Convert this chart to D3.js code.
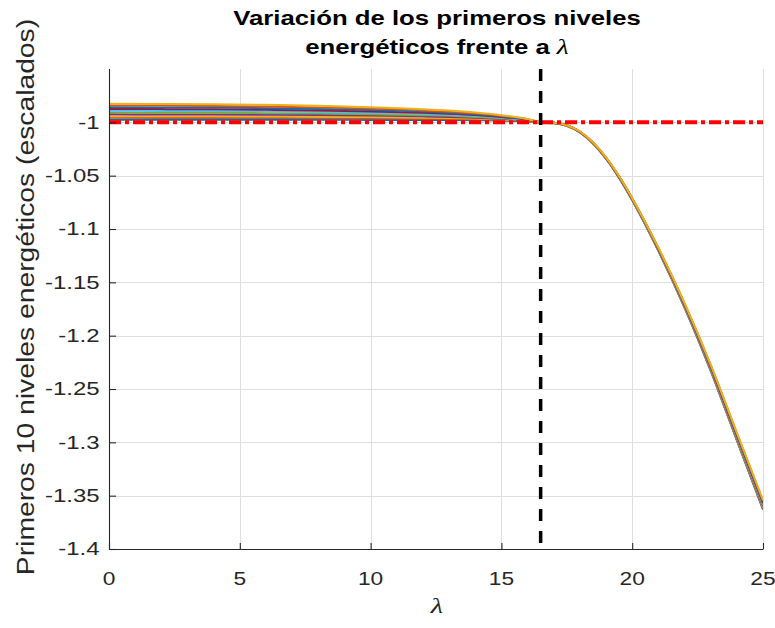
<!DOCTYPE html>
<html>
<head>
<meta charset="utf-8">
<script src="https://cdn.jsdelivr.net/npm/d3@7"></script>
<style>
  html, body { margin: 0; padding: 0; background: #fff; }
  svg { display: block; }
</style>
</head>
<body>
<svg id="chart" width="775" height="628"></svg>
<script>
// λ sample points shared by all ten levels
const lambdas = [0, 2, 4, 6, 8, 10, 12, 13, 14, 15, 16, 16.5, 17, 17.5, 18, 18.5, 19, 19.5, 20, 21, 22, 23, 24, 25];

// scaled energy of the first ten levels at each λ
const level1  = [-0.9975, -0.9975, -0.9975, -0.9976, -0.9976, -0.9977, -0.9978, -0.9979, -0.9981, -0.9984, -0.9992, -1.0003, -1.0008, -1.0033, -1.0094, -1.0198, -1.0341, -1.0521, -1.0730, -1.1205, -1.1737, -1.2329, -1.2982, -1.3630];
const level2  = [-0.9958, -0.9959, -0.9959, -0.9960, -0.9961, -0.9964, -0.9967, -0.9969, -0.9973, -0.9978, -0.9989, -1.0002, -1.0007, -1.0032, -1.0093, -1.0197, -1.0340, -1.0519, -1.0727, -1.1202, -1.1732, -1.2323, -1.2974, -1.3620];
const level3  = [-0.9942, -0.9942, -0.9943, -0.9945, -0.9947, -0.9951, -0.9956, -0.9959, -0.9965, -0.9973, -0.9987, -1.0002, -1.0006, -1.0032, -1.0092, -1.0196, -1.0338, -1.0517, -1.0725, -1.1198, -1.1727, -1.2316, -1.2966, -1.3610];
const level4  = [-0.9925, -0.9926, -0.9927, -0.9929, -0.9932, -0.9937, -0.9944, -0.9949, -0.9957, -0.9967, -0.9984, -1.0001, -1.0006, -1.0031, -1.0091, -1.0195, -1.0337, -1.0516, -1.0723, -1.1195, -1.1722, -1.2310, -1.2957, -1.3600];
const level5  = [-0.9908, -0.9909, -0.9911, -0.9914, -0.9918, -0.9924, -0.9933, -0.9939, -0.9949, -0.9961, -0.9981, -1.0000, -1.0005, -1.0030, -1.0090, -1.0194, -1.0336, -1.0514, -1.0721, -1.1192, -1.1717, -1.2303, -1.2949, -1.3590];
const level6  = [-0.9892, -0.9893, -0.9894, -0.9898, -0.9903, -0.9911, -0.9922, -0.9930, -0.9940, -0.9956, -0.9979, -1.0000, -1.0005, -1.0030, -1.0090, -1.0192, -1.0334, -1.0512, -1.0719, -1.1188, -1.1713, -1.2297, -1.2941, -1.3580];
const level7  = [-0.9875, -0.9876, -0.9878, -0.9883, -0.9889, -0.9898, -0.9911, -0.9920, -0.9932, -0.9950, -0.9976, -0.9999, -1.0004, -1.0029, -1.0089, -1.0191, -1.0333, -1.0511, -1.0717, -1.1185, -1.1708, -1.2290, -1.2933, -1.3570];
const level8  = [-0.9858, -0.9860, -0.9862, -0.9867, -0.9874, -0.9884, -0.9899, -0.9910, -0.9924, -0.9944, -0.9973, -0.9998, -1.0004, -1.0028, -1.0088, -1.0190, -1.0332, -1.0509, -1.0715, -1.1182, -1.1703, -1.2284, -1.2925, -1.3560];
const level9  = [-0.9842, -0.9843, -0.9846, -0.9852, -0.9860, -0.9871, -0.9888, -0.9900, -0.9916, -0.9939, -0.9971, -0.9998, -1.0003, -1.0028, -1.0087, -1.0189, -1.0330, -1.0507, -1.0713, -1.1178, -1.1698, -1.2277, -1.2916, -1.3550];
const level10 = [-0.9825, -0.9827, -0.9830, -0.9836, -0.9845, -0.9858, -0.9877, -0.9890, -0.9908, -0.9933, -0.9968, -0.9997, -1.0003, -1.0027, -1.0086, -1.0188, -1.0329, -1.0506, -1.0711, -1.1175, -1.1694, -1.2271, -1.2908, -1.3540];

const levels = [level1, level2, level3, level4, level5, level6, level7, level8, level9, level10];

// default line colour order, cycling after seven
const palette = ["#0072BD", "#D95319", "#EDB120", "#7E2F8E", "#77AC30", "#4DBEEE", "#A2142F"];

const xTicks = [0, 5, 10, 15, 20, 25];
const yTicks = [-1.4, -1.35, -1.3, -1.25, -1.2, -1.15, -1.1, -1.05, -1];
const yTickLabels = ["-1.4", "-1.35", "-1.3", "-1.25", "-1.2", "-1.15", "-1.1", "-1.05", "-1"];

const criticalLambda = 16.5;   // vertical reference
const referenceLevel = -1;     // horizontal reference

const titleLine1 = "Variación de los primeros niveles";
const titleLine2 = "energéticos frente a ";
const yLabelText = "Primeros 10 niveles energéticos (escalados)";
const lambdaSymbol = "λ";

// ---------------------------------------------------------------
const svg = d3.select("#chart");
const plot = { left: 109, right: 763, top: 69, bottom: 549 };
const textColor = "#262626";
const sx = 1.3; // horizontal glyph stretch

const x = d3.scaleLinear().domain([0, 25]).range([plot.left, plot.right]);
const y = d3.scaleLinear().domain([-1.4, -0.95]).range([plot.bottom, plot.top]);

// grid
const grid = svg.append("g").attr("stroke", "#dedede").attr("stroke-width", 1);
grid.selectAll("line.gx").data(xTicks).join("line")
  .attr("x1", d => Math.round(x(d)) + 0.5).attr("x2", d => Math.round(x(d)) + 0.5)
  .attr("y1", plot.top).attr("y2", plot.bottom);
grid.selectAll("line.gy").data(yTicks).join("line")
  .attr("y1", d => Math.round(y(d)) + 0.5).attr("y2", d => Math.round(y(d)) + 0.5)
  .attr("x1", plot.left).attr("x2", plot.right);

// clip region
svg.append("clipPath").attr("id", "plotClip").append("rect")
  .attr("x", plot.left).attr("y", plot.top)
  .attr("width", plot.right - plot.left).attr("height", plot.bottom - plot.top);

// energy level curves
const line = d3.line()
  .x((d, i) => x(lambdas[i]))
  .y(d => y(d))
  .curve(d3.curveMonotoneX);

svg.append("g").attr("clip-path", "url(#plotClip)")
  .selectAll("path").data(levels).join("path")
  .attr("d", d => line(d))
  .attr("fill", "none")
  .attr("stroke", (d, i) => palette[i % palette.length])
  .attr("stroke-width", 2)
  .attr("stroke-linejoin", "round");

// reference lines
svg.append("line")
  .attr("x1", x(0)).attr("x2", x(25))
  .attr("y1", y(referenceLevel)).attr("y2", y(referenceLevel))
  .attr("stroke", "#ff0000").attr("stroke-width", 4)
  .attr("stroke-dasharray", "12,4,4,4");

svg.append("line")
  .attr("x1", x(criticalLambda)).attr("x2", x(criticalLambda))
  .attr("y1", plot.top).attr("y2", plot.bottom)
  .attr("stroke", "#000").attr("stroke-width", 3.5)
  .attr("stroke-dasharray", "12,10");

// axes
const xAxis = d3.axisBottom(x).tickValues(xTicks).tickSizeInner(-6.5).tickSizeOuter(0).tickFormat("");
const yAxis = d3.axisLeft(y).tickValues(yTicks).tickSizeInner(-6.5).tickSizeOuter(0).tickFormat("");

const gx = svg.append("g").attr("transform", `translate(0,${plot.bottom + 0.5})`).call(xAxis);
gx.select(".domain").attr("d", `M${plot.left},0H${plot.right}`);
const gy = svg.append("g").attr("transform", `translate(${plot.left + 0.5},0)`).call(yAxis);
gy.select(".domain").attr("d", `M0,${plot.bottom}V${plot.top}`);
svg.selectAll(".domain, .tick line").attr("stroke", textColor).attr("stroke-width", 1.1);

// tick labels
const tickFont = "'Liberation Sans', Arial, Helvetica, sans-serif";
svg.append("g").selectAll("text").data(xTicks).join("text")
  .attr("transform", d => `translate(${x(d)},585) scale(${sx},1)`)
  .attr("text-anchor", "middle")
  .attr("font-family", tickFont).attr("font-size", 17.5)
  .attr("fill", textColor)
  .text(d => d);

svg.append("g").selectAll("text").data(yTicks).join("text")
  .attr("transform", d => `translate(99.5,${y(d) + 6.4}) scale(1.33,1)`)
  .attr("text-anchor", "end")
  .attr("font-family", tickFont).attr("font-size", 18)
  .attr("fill", textColor)
  .text((d, i) => yTickLabels[i]);

// axis labels
svg.append("text")
  .attr("transform", `translate(34,297) rotate(-90) scale(1.23,1)`)
  .attr("text-anchor", "middle")
  .attr("font-family", tickFont).attr("font-size", 23)
  .attr("fill", textColor)
  .text(yLabelText);

svg.append("text")
  .attr("transform", `translate(437,613) scale(${sx},1)`)
  .attr("text-anchor", "middle")
  .attr("font-family", "'Liberation Serif', 'DejaVu Serif', serif")
  .attr("font-style", "italic").attr("font-size", 22)
  .attr("fill", textColor)
  .text(lambdaSymbol);

// title
const title = svg.append("g").attr("font-family", tickFont).attr("font-weight", "bold")
  .attr("font-size", 19.5).attr("fill", "#000");
title.append("text")
  .attr("transform", `translate(437,24.5) scale(1.32,1)`)
  .attr("text-anchor", "middle")
  .text(titleLine1);
const t2 = title.append("text")
  .attr("transform", `translate(437,54) scale(1.32,1)`)
  .attr("text-anchor", "middle");
t2.append("tspan").text(titleLine2);
t2.append("tspan")
  .attr("font-family", "'Liberation Serif', 'DejaVu Serif', serif")
  .attr("font-style", "italic").attr("font-weight", "normal").attr("font-size", 21)
  .text(lambdaSymbol);
</script>
</body>
</html>
